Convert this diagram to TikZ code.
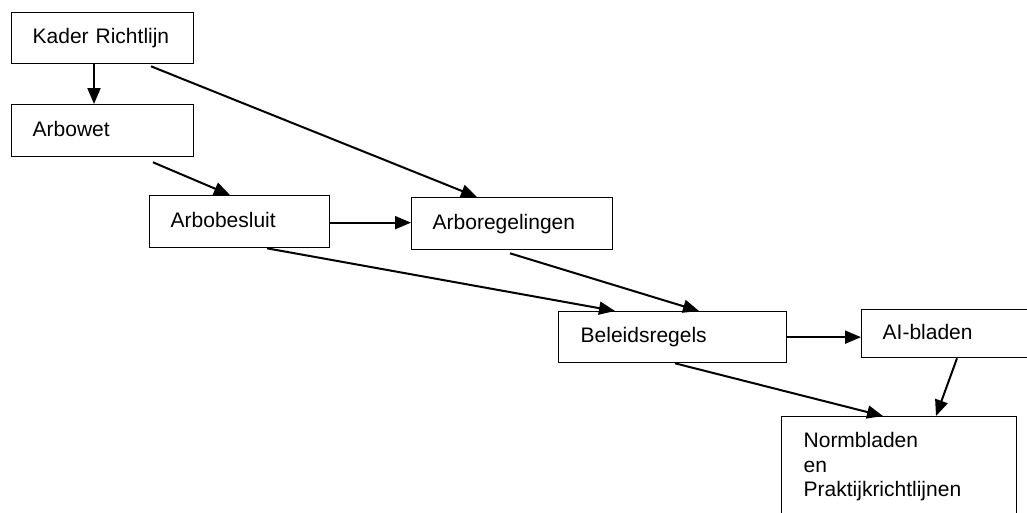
\documentclass[tikz,border=0pt]{standalone}
\usepackage{fontspec}
\setmainfont{Liberation Sans}
\usetikzlibrary{arrows.meta}
\begin{document}
\begin{tikzpicture}[x=1pt,y=-1pt,
  box/.style={draw, line width=1.3pt, rectangle, anchor=north west, inner xsep=21pt, inner ysep=0pt,
    align=left, font=\fontsize{21}{24.6}\selectfont},
  one/.style={text height=15pt, text depth=4pt},
  conn/.style={line width=2pt, -{Triangle[length=16pt,width=13pt]}}]
\useasboundingbox (0,0) rectangle (1027,512);
\clip (0,0) rectangle (1027,512);
\node[box,one,minimum width=182pt,minimum height=51pt,text width=140pt] (kr) at (11,12) {Kader Richtlijn};
\node[box,one,minimum width=182pt,minimum height=52pt,text width=140pt] (aw) at (11,104) {Arbowet};
\node[box,one,minimum width=180pt,minimum height=52pt,text width=138pt] (ab) at (149,195) {Arbobesluit};
\node[box,one,minimum width=201pt,minimum height=52pt,text width=159pt] (ar) at (411,197) {Arboregelingen};
\node[box,one,minimum width=228pt,minimum height=51pt,text width=184pt,inner xsep=22pt] (br) at (558,311) {Beleidsregels};
\node[box,one,minimum width=200pt,minimum height=48pt,text width=158pt] (ai) at (861,309) {AI-bladen};
\node[box,minimum width=235pt,minimum height=100pt,text width=191pt,inner xsep=22pt] (nb) at (781,416) {Normbladen\\en\\Praktijkrichtlijnen};
\draw[conn] ([xshift=83pt]kr.south west) -- ([xshift=83pt]aw.north west);
\draw[conn] ([xshift=140pt,yshift=-2pt]kr.south west) -- ([xshift=66pt]ar.north west);
\draw[conn] ([xshift=142pt,yshift=-5pt]aw.south west) -- ([xshift=81pt]ab.north west);
\draw[conn] ([yshift=-1pt]ab.east) -- ([yshift=-1pt]ab.east -| ar.west);
\draw[conn] ([xshift=118pt]ab.south west) -- ([xshift=57pt]br.north west);
\draw[conn] ([xshift=99pt,yshift=-3pt]ar.south west) -- ([xshift=141pt]br.north west);
\draw[conn] (br.east) -- (br.east -| ai.west);
\draw[conn] ([xshift=96pt]ai.south west) -- ([xshift=155pt]nb.north west);
\draw[conn] ([xshift=117pt]br.south west) -- ([xshift=102pt]nb.north west);
\end{tikzpicture}
\end{document}
